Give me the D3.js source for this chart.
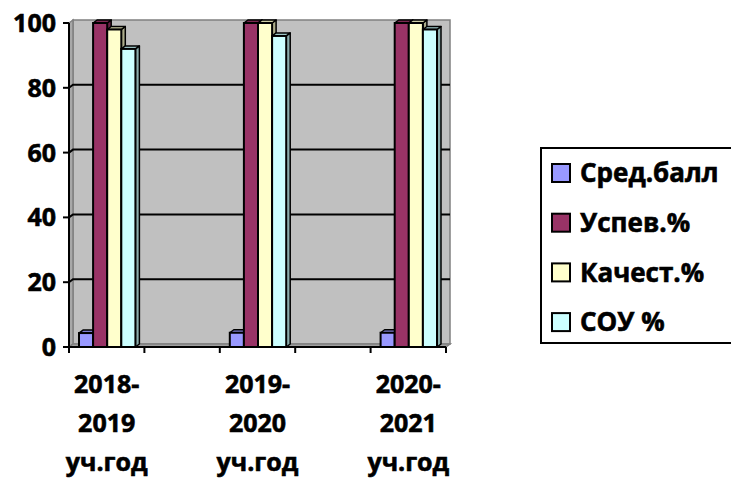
<!DOCTYPE html>
<html>
<head>
<meta charset="utf-8">
<script src="https://cdn.jsdelivr.net/npm/d3@7"></script>
<style>
  body { margin: 0; background: #fff; overflow: hidden; }
  text { font-family: "Open Sans", "DejaVu Sans", sans-serif; font-weight: bold; fill: #000; stroke: #000; stroke-width: 0.6px; }
</style>
</head>
<body>
<svg width="731" height="481"></svg>
<script>
// data
const categories = ['2018-2019 уч.год', '', '2019-2020 уч.год', '', '2020-2021 уч.год'];
const seriesNames = ['Сред.балл', 'Успев.%', 'Качест.%', 'СОУ %'];
const avgScore = [4.3, null, 4.4, null, 4.4];
const passRate = [100, null, 100, null, 100];
const qualityRate = [98, null, 100, null, 100];
const souRate = [92, null, 96, null, 98];
const yTicks = [0, 20, 40, 60, 80, 100];
const colors = ['#9999FF', '#993366', '#FFFFCC', '#CCFFFF'];

const seriesValues = [avgScore, passRate, qualityRate, souRate];

const svg = d3.select('svg');

// 3d offsets
const depth = { dx: 4, dy: -3 };

const xScale = d3.scaleBand()
  .domain(d3.range(categories.length))
  .range([69, 446])
  .padding(0);

const innerScale = d3.scaleBand()
  .domain(d3.range(seriesNames.length))
  .range([10, xScale.bandwidth() - 9])
  .padding(0);

const yScale = d3.scaleLinear()
  .domain([0, 100])
  .range([347, 23]);

const [x0, x1] = xScale.range();
const yTop = yScale(100);
const yBot = yScale(0);
const pts = (arr) => arr.map(p => p.join(',')).join(' ');

// walls + floor
const wallG = svg.append('g').attr('class', 'walls');
wallG.append('polygon')
  .attr('points', pts([[x0 + depth.dx, yTop + depth.dy], [x1 + depth.dx, yTop + depth.dy], [x1 + depth.dx, yBot + depth.dy], [x0 + depth.dx, yBot + depth.dy]]))
  .attr('fill', '#C0C0C0')
  .attr('stroke', '#808080')
  .attr('stroke-width', 1.5);
wallG.append('polygon')
  .attr('points', pts([[x0, yTop], [x0 + depth.dx, yTop + depth.dy], [x0 + depth.dx, yBot + depth.dy], [x0, yBot]]))
  .attr('fill', '#A8A8A8')
  .attr('stroke', '#808080')
  .attr('stroke-width', 1.5);
wallG.append('polygon')
  .attr('points', pts([[x0, yBot], [x1, yBot], [x1 + depth.dx, yBot + depth.dy], [x0 + depth.dx, yBot + depth.dy]]))
  .attr('fill', '#A0A0A0')
  .attr('stroke', '#808080')
  .attr('stroke-width', 1.5);

// gridlines
const gridG = svg.append('g').attr('class', 'grid');
yTicks.filter(t => t > 0 && t < 100).forEach(t => {
  const y = yScale(t);
  gridG.append('polyline')
    .attr('points', pts([[x0, y], [x0 + depth.dx, y + depth.dy], [x1 + depth.dx, y + depth.dy]]))
    .attr('fill', 'none')
    .attr('stroke', '#000')
    .attr('stroke-width', 2);
});

// bars
const barsG = svg.append('g').attr('class', 'bars');
const bw = innerScale.bandwidth();
categories.forEach((c, ci) => {
  seriesValues.forEach((vals, si) => {
    const v = vals[ci];
    if (v == null) return;
    const bx = xScale(ci) + innerScale(si);
    const by = yScale(v);
    const col = d3.color(colors[si]);
    const g = barsG.append('g');
    // side
    g.append('polygon')
      .attr('points', pts([[bx + bw, by], [bx + bw + depth.dx, by + depth.dy], [bx + bw + depth.dx, yBot + depth.dy], [bx + bw, yBot]]))
      .attr('fill', col.darker(1.1))
      .attr('stroke', '#000').attr('stroke-width', 1.5).attr('stroke-linejoin', 'round');
    // top
    g.append('polygon')
      .attr('points', pts([[bx, by], [bx + depth.dx, by + depth.dy], [bx + bw + depth.dx, by + depth.dy], [bx + bw, by]]))
      .attr('fill', col.darker(0.6))
      .attr('stroke', '#000').attr('stroke-width', 1.5).attr('stroke-linejoin', 'round');
    // front
    g.append('rect')
      .attr('x', bx).attr('y', by)
      .attr('width', bw).attr('height', yBot - by)
      .attr('fill', colors[si])
      .attr('stroke', '#000').attr('stroke-width', 2);
  });
});

// y axis
const yAxisG = svg.append('g').attr('class', 'y-axis');
yAxisG.append('line')
  .attr('x1', x0).attr('x2', x0).attr('y1', yTop).attr('y2', yBot)
  .attr('stroke', '#000').attr('stroke-width', 2);
yAxisG.selectAll('g.tick').data(yTicks).join('g')
  .attr('class', 'tick')
  .attr('transform', d => `translate(0,${yScale(d)})`)
  .call(sel => {
    sel.append('line').attr('x1', x0 - 6).attr('x2', x0).attr('stroke', '#000').attr('stroke-width', 2);
    sel.append('text').attr('x', 56).attr('dy', '0.36em').attr('text-anchor', 'end')
      .attr('font-size', 25).text(d => d);
  });

// x axis
const xAxisG = svg.append('g').attr('class', 'x-axis');
xAxisG.append('line')
  .attr('x1', x0).attr('x2', x1).attr('y1', yBot).attr('y2', yBot)
  .attr('stroke', '#000').attr('stroke-width', 2);
const boundaries = d3.range(categories.length + 1).map(i => x0 + i * xScale.step());
xAxisG.selectAll('line.tick').data(boundaries).join('line')
  .attr('class', 'tick')
  .attr('x1', d => d).attr('x2', d => d)
  .attr('y1', yBot).attr('y2', yBot + 6)
  .attr('stroke', '#000').attr('stroke-width', 2);
const labelLines = (s) => s.replace('-', '-\n').replace(' ', '\n').split('\n');
categories.forEach((c, ci) => {
  if (!c) return;
  const cx = xScale(ci) + xScale.bandwidth() / 2;
  xAxisG.append('text')
    .attr('text-anchor', 'middle')
    .attr('font-size', 25)
    .selectAll('tspan').data(labelLines(c)).join('tspan')
    .attr('x', cx)
    .attr('y', (d, i) => 393 + i * 39)
    .text(d => d);
});

// legend (right edge runs off the canvas, so no right border)
const legendG = svg.append('g').attr('class', 'legend').attr('transform', 'translate(541,148)');
legendG.append('rect')
  .attr('width', 200).attr('height', 195)
  .attr('fill', '#fff');
legendG.append('path')
  .attr('d', 'M200,0H0V195H200')
  .attr('fill', 'none').attr('stroke', '#000').attr('stroke-width', 2);
const items = legendG.selectAll('g.item').data(seriesNames).join('g')
  .attr('class', 'item')
  .attr('transform', (d, i) => `translate(0,${25 + i * 49.7})`);
items.append('rect')
  .attr('x', 11).attr('y', -9).attr('width', 18).attr('height', 18)
  .attr('fill', (d, i) => colors[i])
  .attr('stroke', '#000').attr('stroke-width', 2);
items.append('text')
  .attr('x', 39).attr('dy', '0.36em')
  .attr('font-size', 26)
  .text(d => d);
</script>
</body>
</html>
